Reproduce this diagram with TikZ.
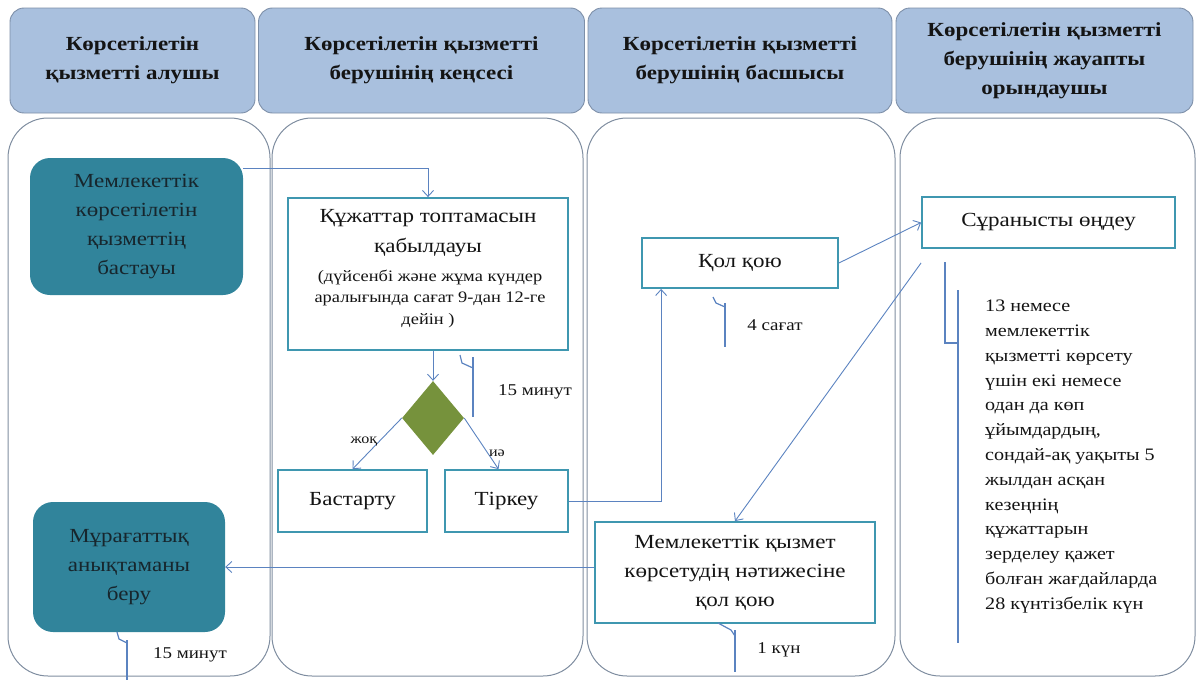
\documentclass[tikz,border=0pt]{standalone}
\usepackage{fontspec}
\setmainfont{Liberation Serif}[FakeStretch=1.15]
\usetikzlibrary{arrows.meta,shapes.geometric,calc}
\definecolor{hdrfill}{HTML}{A9C0DE}
\definecolor{hdrline}{HTML}{7D8FA8}
\definecolor{laneline}{HTML}{7F8DA0}
\definecolor{tealfill}{HTML}{31849B}
\definecolor{tealtext}{HTML}{17262D}
\definecolor{boxline}{HTML}{3F97B0}
\definecolor{arrowc}{HTML}{5B83C0}
\definecolor{olive}{HTML}{76923C}
\definecolor{txt}{HTML}{141414}
\tikzset{
  hdrbox/.style={draw=hdrline, line width=0.9pt, fill=hdrfill, rounded corners=14pt, align=center, text=txt, font=\bfseries\fontsize{20}{29}\selectfont, inner sep=0pt},
  lanebox/.style={draw=laneline, line width=1pt, rounded corners=40pt, inner sep=0pt},
  tealbox/.style={fill=tealfill, rounded corners=20pt, align=center, text=tealtext, font=\fontsize{20}{29}\selectfont, inner sep=0pt},
  stepbox/.style={draw=boxline, line width=1.8pt, fill=white, align=center, text=txt, font=\fontsize{20}{29}\selectfont, inner sep=0pt},
  flow/.style={draw=arrowc, line width=0.9pt, -{Straight Barb[length=6pt,width=11pt]}},
  accent/.style={draw=arrowc, line width=1.2pt},
  lbl/.style={text=txt, font=\fontsize{16.5}{20}\selectfont, inner sep=0pt},
  small/.style={text=txt, font=\fontsize{16}{22}\selectfont, inner sep=0pt},
  big/.style={text=txt, font=\fontsize{20}{29}\selectfont, inner sep=0pt},
}
\begin{document}
\begin{tikzpicture}[x=1pt,y=-1pt]
\useasboundingbox (0,0) rectangle (1198,680);
% headers
\node[hdrbox, minimum width=245pt, minimum height=105pt] (h1) at (132.5,60.5) {Көрсетілетін\\қызметті алушы};
\node[hdrbox, minimum width=326pt, minimum height=105pt] (h2) at (421.5,60.5) {Көрсетілетін қызметті\\берушінің кеңсесі};
\node[hdrbox, minimum width=304pt, minimum height=105pt] (h3) at (740,60.5) {Көрсетілетін қызметті\\берушінің басшысы};
\node[hdrbox, minimum width=297pt, minimum height=105pt] (h4) at (1044.5,60.5) {Көрсетілетін қызметті\\берушінің жауапты\\орындаушы};
% lanes
\node[lanebox, minimum width=262pt, minimum height=558pt] (l1) at (139,397) {};
\node[lanebox, minimum width=311pt, minimum height=558pt] (l2) at (427.5,397) {};
\node[lanebox, minimum width=308pt, minimum height=558pt] (l3) at (741,397) {};
\node[lanebox, minimum width=295pt, minimum height=558pt] (l4) at (1047.5,397) {};
% nodes
\node[tealbox, minimum width=213pt, minimum height=137pt] (start) at (136.5,226.5) {Мемлекеттік\\көрсетілетін\\қызметтің\\бастауы};
\node[stepbox, minimum width=280pt, minimum height=152pt] (recv) at (428,274) {};
\node[big] (recvt1) at (428,218) {Құжаттар топтамасын};
\node[big] (recvt2) at (428,247) {қабылдауы};
\node[small] (recvt3) at (430,277) {(дүйсенбі және жұма күндер};
\node[small] (recvt4) at (430,299) {аралығында сағат 9-дан  12-ге};
\node[small] (recvt5) at (428,321) {дейін )};
\node[diamond, fill=olive, minimum width=62pt, minimum height=74pt, inner sep=0pt] (dec) at (433,418) {};
\node[stepbox, minimum width=149pt, minimum height=62pt] (rej) at (352.5,501) {Бастарту};
\node[stepbox, minimum width=123pt, minimum height=62pt] (reg) at (506.5,501) {Тіркеу};
\node[stepbox, minimum width=196pt, minimum height=50pt] (sign) at (740,263) {Қол қою};
\node[stepbox, minimum width=253pt, minimum height=51pt] (proc) at (1048.5,222.5) {Сұранысты өңдеу};
\node[stepbox, minimum width=280pt, minimum height=101pt] (res) at (735,572.5) {Мемлекеттік қызмет\\көрсетудің нәтижесіне\\қол  қою};
\node[tealbox, minimum width=192pt, minimum height=130pt] (arch) at (129,567) {Мұрағаттық\\анықтаманы\\беру};
% connectors
\draw[flow] (start.east |- 0,168) -| (recv.north);
\draw[flow] (recv.south -| dec.north) -- (dec.north);
\draw[flow] (dec.west) -- (rej.north);
\draw[flow] (dec.east) -- ($(reg.north)+(-8,0)$);
\node[lbl, font=\fontsize{14}{16}\selectfont] (no) at (364,442) {жоқ};
\node[lbl, font=\fontsize{14}{16}\selectfont] (yes) at (497,453) {иә};
\draw[flow] (reg.east) -| ($(sign.south west)+(20,0)$);
\draw[flow] (sign.east) -- (proc.west);
\coordinate (pfoot) at ($(proc.south west)+(0,14)$);
\draw[flow] (pfoot) -- (res.north);
\draw[flow] (arch.east -| res.west) -- (arch.east);
% accent callouts
\draw[accent] (460,355) -- (462,363) -- (473,368);
\draw[accent] (473,357) -- (473,417);
\node[lbl] (t1) at (535,392) {15 минут};
\draw[accent] (713,297) -- (716,303) -- (725,307);
\draw[accent] (725,303) -- (725,347);
\node[lbl] (t2) at (775,325) {4 сағат};
\draw[accent] (718,623) -- (731,630) -- (735,636);
\draw[accent] (735,630) -- (735,672);
\node[lbl] (t3) at (779,650) {1 күн};
\draw[accent] (117,632) -- (119,639) -- (127,643);
\draw[accent] (127,640) -- (127,680);
\node[lbl] (t4) at (190,655) {15 минут};
\draw[accent] (945,262) -- (945,343) -- (958,343);
\draw[accent] (958,290) -- (958,643);
\node[lbl, font=\fontsize{17.5}{24.8}\selectfont, align=left, anchor=north west] (note) at (985,300) {13 немесе\\мемлекеттік\\қызметті көрсету\\үшін екі  немесе\\одан да көп\\ұйымдардың,\\сондай-ақ уақыты 5\\жылдан асқан\\кезеңнің\\құжаттарын\\зерделеу қажет\\болған жағдайларда\\28 күнтізбелік күн};
\end{tikzpicture}
\end{document}
